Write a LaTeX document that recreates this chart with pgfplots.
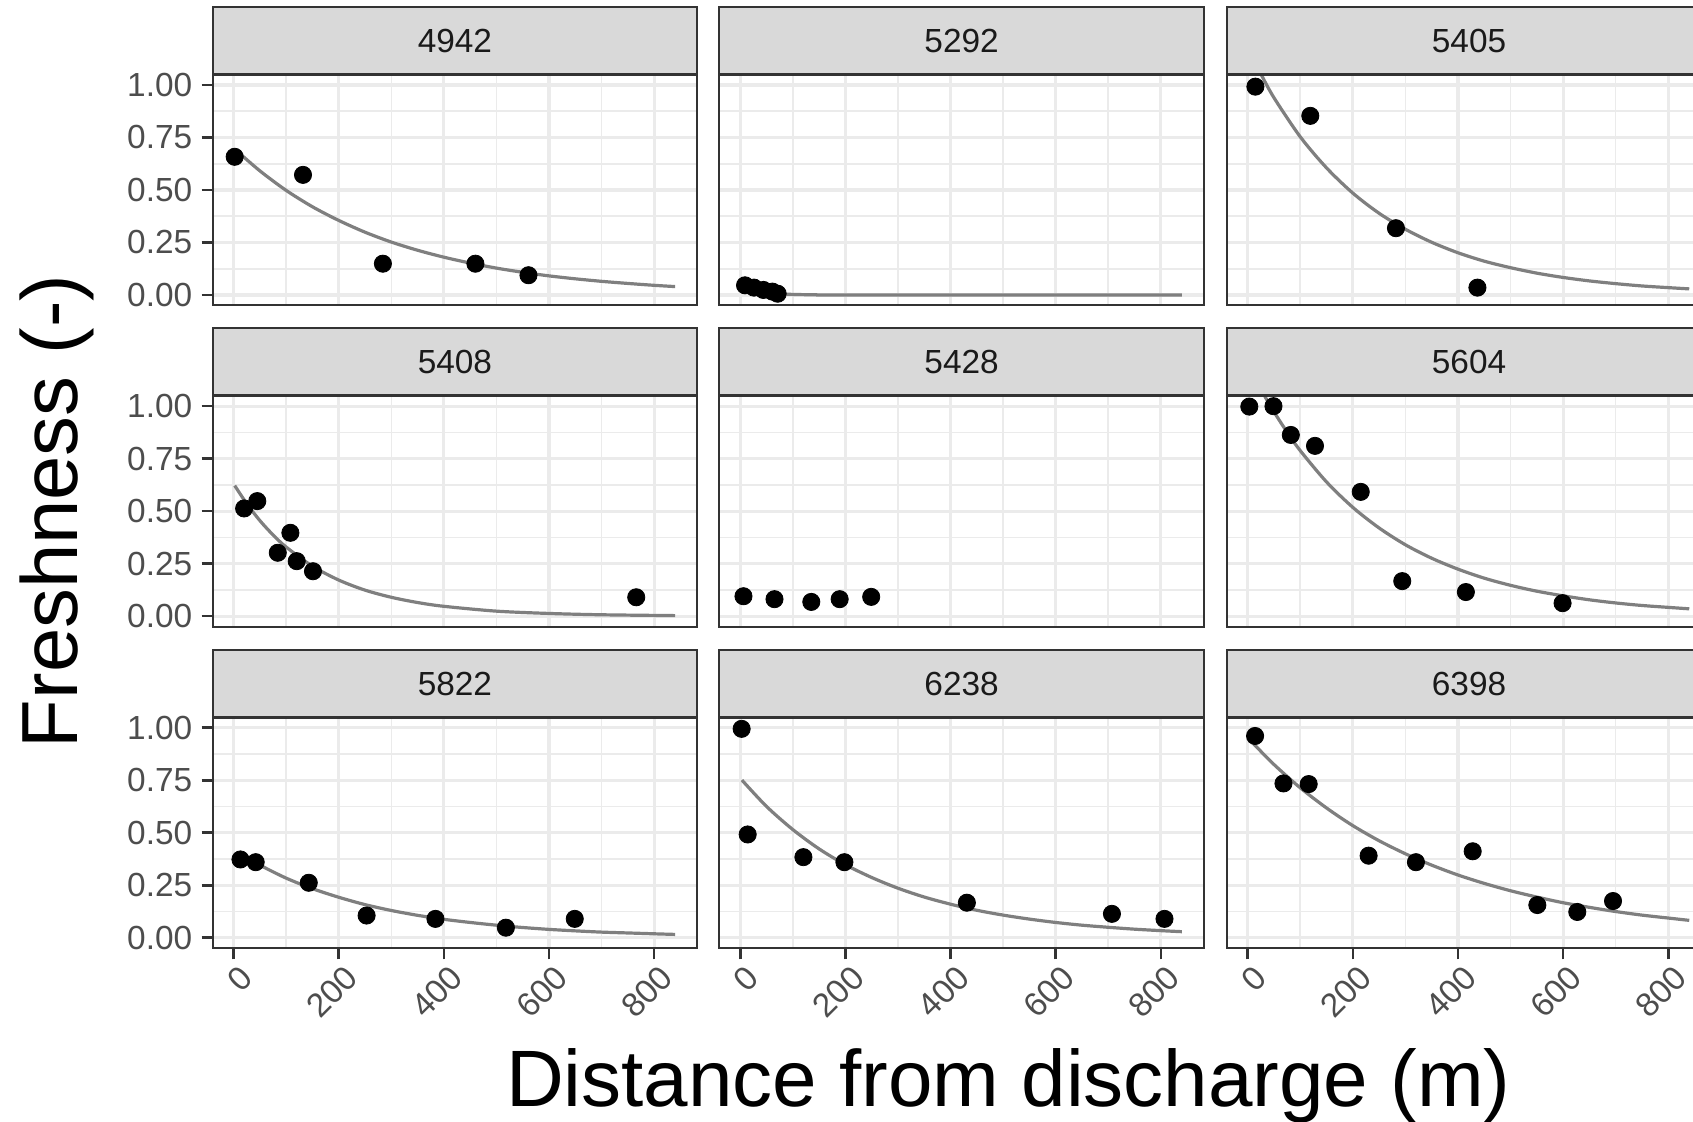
\documentclass[border=0pt]{standalone}
\usepackage{pgfplots}
\pgfplotsset{compat=1.18}
\usepackage{fontspec}
\setmainfont{Liberation Sans}
\definecolor{grey92}{HTML}{EBEBEB}
\definecolor{grey85}{HTML}{D9D9D9}
\definecolor{grey20}{HTML}{333333}
\definecolor{grey30}{HTML}{4D4D4D}
\definecolor{grey10}{HTML}{1A1A1A}
\definecolor{grey50}{HTML}{7F7F7F}
\pgfplotsset{
  panel/.style={
    width=242.3pt, height=115.5pt, scale only axis,
    anchor=south west,
    xmin=-40, xmax=882, ymin=-0.05, ymax=1.05,
    xtick={0,200,400,600,800}, minor xtick={100,300,500,700},
    ytick={0,0.25,0.5,0.75,1}, minor ytick={0.125,0.375,0.625,0.875},
    grid=both,
    major grid style={color=grey92, line width=1.6pt},
    minor grid style={color=grey92, line width=0.8pt},
    axis line style={draw=none},
    tick align=outside, tick pos=left,
    major tick length=5.5pt, minor tick length=0pt,
    tick style={color=grey20, line width=1.3pt},
    xticklabels={}, yticklabels={},
    xtick style={draw=none}, ytick style={draw=none},
    yticklabel style={font=\fontsize{16.7}{20}\selectfont, color=grey30, anchor=east, inner sep=0pt, xshift=-4.5pt},
    xticklabel style={font=\fontsize{16.7}{20}\selectfont, color=grey30, rotate=45, anchor=north east, inner sep=0pt, yshift=-3pt},
  },
  leftcol/.style={ytick style={draw=grey20, line width=1.3pt}, yticklabels={0.00,0.25,0.50,0.75,1.00}},
  bottomrow/.style={xtick style={draw=grey20, line width=1.3pt}, xticklabels={0,200,400,600,800}},
  fit/.style={no markers, color=grey50, line width=1.6pt, smooth},
  pts/.style={only marks, mark=*, mark size=4.3pt, color=black},
}
\newcommand{\facetstrip}[3]{%
  \draw[grey20, line width=1pt] (#1,#2) rectangle ++(242.3pt,115.5pt);
  \filldraw[fill=grey85, draw=grey20, line width=1pt] (#1,#2+115.5pt) rectangle ++(242.3pt,33.7pt);
  \draw[grey20, line width=1.6pt] (#1,#2+115.5pt) -- ++(242.3pt,0pt);
  \node[font=\fontsize{16.7}{20}\selectfont, text=grey10] at (#1+121.15pt,#2+132.35pt) {#3};
}
\begin{document}
\begin{tikzpicture}
\path[use as bounding box] (0pt,0pt) rectangle (846.5pt,561pt);
\clip (0pt,0pt) rectangle (846.5pt,561pt);
% ---------- row 1 ----------
\begin{axis}[panel, leftcol, at={(106.3pt,408.25pt)}]
\addplot[fit] coordinates {(2,0.695) (50,0.591) (100,0.498) (150,0.420) (200,0.355) (250,0.299) (300,0.252) (350,0.213) (400,0.180) (450,0.152) (500,0.128) (550,0.108) (600,0.091) (650,0.077) (700,0.065) (750,0.055) (800,0.046) (840,0.040)};
\addplot[pts] coordinates {(2,0.658) (132,0.572) (284,0.149) (460,0.149) (561,0.094)};
\end{axis}
\begin{axis}[panel, at={(359.65pt,408.25pt)}]
\addplot[fit] coordinates {(2.5,0.082) (10,0.063) (20,0.045) (30,0.031) (40,0.022) (60,0.011) (80,0.0055) (100,0.0027) (150,0.0005) (200,0.0001) (840,0)};
\addplot[pts] coordinates {(9,0.046) (26,0.035) (44,0.024) (61,0.016) (71,0.006)};
\end{axis}
\begin{axis}[panel, at={(613.35pt,408.25pt)}]
\addplot[fit] coordinates {(15,1.095) (25,1.052) (50,0.939) (100,0.753) (150,0.605) (200,0.485) (250,0.389) (300,0.313) (350,0.251) (400,0.201) (450,0.161) (500,0.130) (550,0.104) (600,0.0835) (650,0.067) (700,0.054) (750,0.043) (800,0.035) (840,0.029)};
\addplot[pts] coordinates {(14.6,0.992) (119,0.853) (282,0.318) (437,0.035)};
\end{axis}
% ---------- row 2 ----------
\begin{axis}[panel, leftcol, at={(106.3pt,247.65pt)}]
\addplot[fit] coordinates {(2,0.622) (25,0.536) (50,0.455) (75,0.387) (100,0.329) (150,0.238) (200,0.172) (250,0.124) (300,0.090) (350,0.065) (400,0.047) (500,0.024) (600,0.013) (700,0.0067) (840,0.0027)};
\addplot[pts] coordinates {(20,0.513) (45,0.548) (84,0.302) (108,0.397) (120,0.262) (151,0.214) (766,0.090)};
\end{axis}
\begin{axis}[panel, at={(359.65pt,247.65pt)}]
\addplot[pts] coordinates {(6,0.095) (65,0.081) (135,0.068) (189,0.081) (249,0.092)};
\end{axis}
\begin{axis}[panel, at={(613.35pt,247.65pt)}]
\addplot[fit] coordinates {(3,1.185) (25,1.080) (50,0.973) (75,0.876) (100,0.788) (150,0.639) (200,0.518) (250,0.420) (300,0.340) (350,0.276) (400,0.224) (450,0.181) (500,0.147) (550,0.119) (600,0.097) (650,0.078) (700,0.063) (750,0.051) (800,0.042) (840,0.035)};
\addplot[pts] coordinates {(3,0.998) (49,1.0) (82,0.863) (128,0.811) (215,0.592) (294,0.167) (415,0.115) (599,0.062)};
\end{axis}
% ---------- row 3 ----------
\begin{axis}[panel, leftcol, bottomrow, at={(106.3pt,86.85pt)}]
\addplot[fit] coordinates {(13,0.399) (50,0.346) (100,0.284) (150,0.234) (200,0.193) (250,0.158) (300,0.130) (350,0.107) (400,0.088) (450,0.073) (500,0.060) (550,0.049) (600,0.040) (650,0.033) (700,0.027) (750,0.023) (800,0.019) (840,0.016)};
\addplot[pts] coordinates {(13,0.373) (42,0.360) (143,0.262) (253,0.106) (384,0.090) (518,0.048) (649,0.090)};
\end{axis}
\begin{axis}[panel, bottomrow, at={(359.65pt,86.85pt)}]
\addplot[fit] coordinates {(3,0.751) (50,0.625) (100,0.515) (150,0.423) (200,0.348) (250,0.287) (300,0.236) (350,0.194) (400,0.160) (450,0.131) (500,0.108) (550,0.089) (600,0.073) (650,0.060) (700,0.050) (750,0.041) (800,0.034) (840,0.029)};
\addplot[pts] coordinates {(2.5,0.995) (14,0.492) (120,0.384) (198,0.360) (431,0.167) (707,0.114) (807,0.090)};
\end{axis}
\begin{axis}[panel, bottomrow, at={(613.35pt,86.85pt)}]
\addplot[fit] coordinates {(11,0.924) (50,0.825) (100,0.714) (150,0.618) (200,0.534) (250,0.462) (300,0.400) (350,0.346) (400,0.299) (450,0.259) (500,0.224) (550,0.194) (600,0.167) (650,0.145) (700,0.125) (750,0.108) (800,0.094) (840,0.083)};
\addplot[pts] coordinates {(14,0.961) (68,0.735) (116,0.732) (230,0.391) (320,0.360) (428,0.412) (551,0.156) (627,0.123) (695,0.175)};
\end{axis}
% ---------- strips and borders ----------
\facetstrip{106.3pt}{408.25pt}{4942}
\facetstrip{359.65pt}{408.25pt}{5292}
\facetstrip{613.35pt}{408.25pt}{5405}
\facetstrip{106.3pt}{247.65pt}{5408}
\facetstrip{359.65pt}{247.65pt}{5428}
\facetstrip{613.35pt}{247.65pt}{5604}
\facetstrip{106.3pt}{86.85pt}{5822}
\facetstrip{359.65pt}{86.85pt}{6238}
\facetstrip{613.35pt}{86.85pt}{6398}
% ---------- titles ----------
\node[rotate=90, anchor=base, font=\fontsize{39.8}{44}\selectfont] at (38.5pt,305.3pt) {Freshness (-)};
\node[anchor=base, font=\fontsize{40}{44}\selectfont] at (504.2pt,7.65pt) {Distance from discharge (m)};
\end{tikzpicture}
\end{document}
